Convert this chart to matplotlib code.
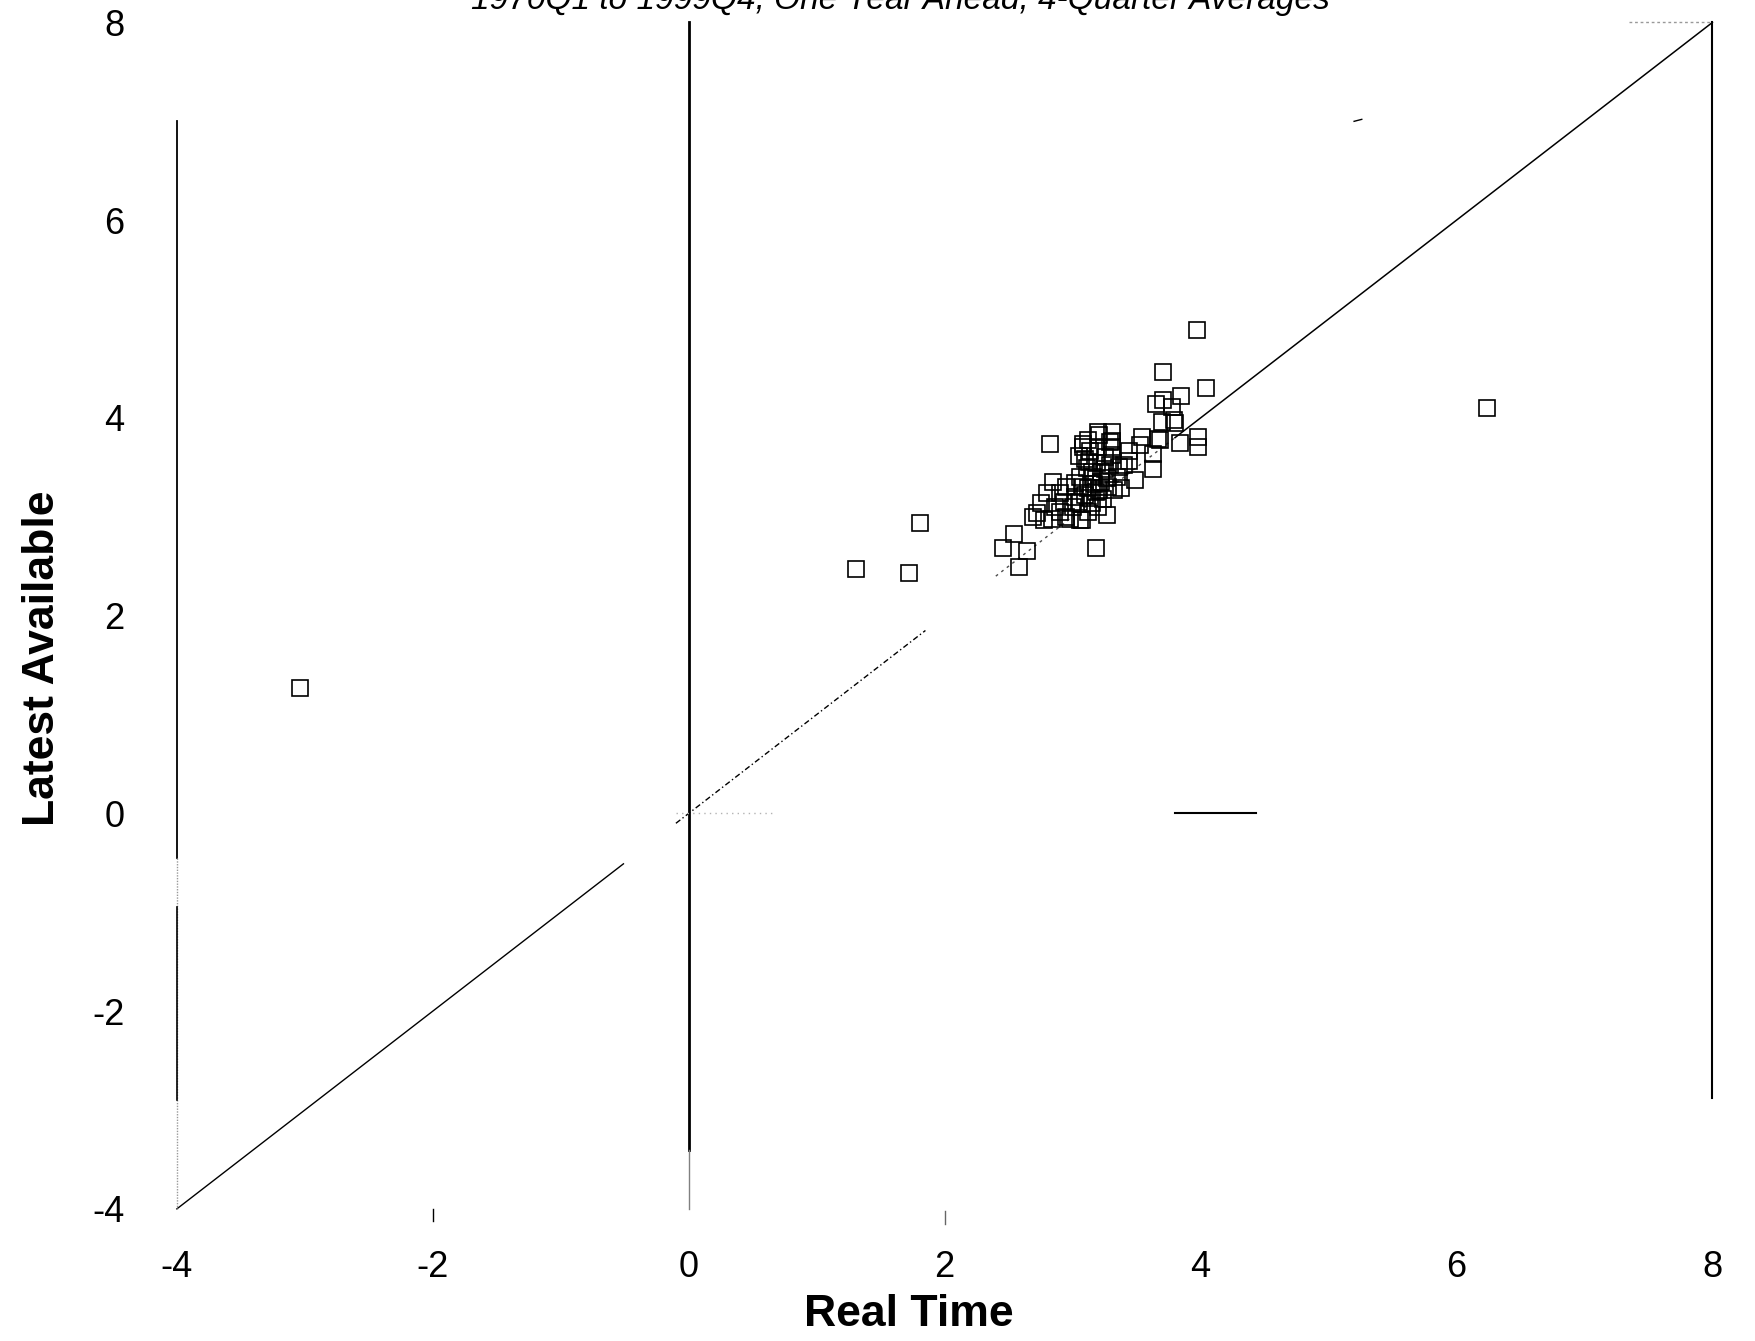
import matplotlib.pyplot as plt

plt.rcParams['font.family'] = ['Liberation Sans', 'DejaVu Sans']

title = "1970Q1 to 1999Q4, One Year Ahead, 4-Quarter Averages"
tick_values = [-4, -2, 0, 2, 4, 6, 8]

# real time vs latest available values
real_time = [
    -3.04, 1.31, 1.72, 1.81, 6.24,
    3.97, 3.71, 4.04, 3.85, 3.65, 3.71, 3.78, 3.70, 3.79, 3.98, 3.98, 3.84, 3.67, 3.80,
    3.54, 3.53, 3.68, 3.63, 3.63, 3.49, 3.44, 3.44, 3.40, 3.38, 3.31, 3.31, 3.31, 3.31,
    3.29, 3.21, 3.20, 3.12, 3.08, 3.08, 3.14, 3.20, 2.82,
    3.29, 3.19, 3.11, 3.06, 3.16, 3.27, 3.02, 2.95, 3.12, 3.21, 3.32, 3.02, 3.14, 3.24,
    3.00, 3.15, 3.27, 2.98, 3.06, 3.18, 3.22, 3.25, 3.10, 3.17, 3.10, 3.20, 3.12, 3.35,
    3.36, 3.05, 3.15, 3.22, 3.08, 3.18, 3.25, 3.13, 3.28, 3.05,
    2.85, 2.80, 2.90, 2.93, 2.75, 2.86, 2.90, 2.69, 2.78, 2.84, 3.07, 2.54, 2.46, 2.64,
    2.58, 2.72, 2.95,
]
latest = [
    1.27, 2.47, 2.43, 2.94, 4.10,
    4.89, 4.46, 4.30, 4.22, 4.14, 4.18, 4.11, 3.96, 3.98, 3.81, 3.71, 3.75, 3.79, 3.95,
    3.81, 3.73, 3.78, 3.64, 3.48, 3.37, 3.67, 3.56, 3.52, 3.29, 3.86, 3.77, 3.71, 3.63,
    3.76, 3.83, 3.86, 3.78, 3.74, 3.71, 3.67, 3.71, 3.74,
    3.52, 3.54, 3.49, 3.40, 3.40, 3.39, 3.34, 3.30, 3.29, 3.27, 3.27, 3.20, 3.19, 3.18,
    3.10, 3.14, 3.02, 2.98, 2.97, 2.68, 3.45, 3.60, 3.58, 3.33, 3.22, 3.10, 3.05, 3.40,
    3.50, 3.62, 3.45, 3.35, 3.30, 3.25, 3.48, 3.55, 3.30, 3.15,
    3.35, 3.24, 3.24, 3.15, 3.14, 3.10, 3.05, 3.00, 2.97, 2.98, 2.97, 2.83, 2.68, 2.65,
    2.49, 3.04, 3.00,
]

fig = plt.figure(figsize=(17.55, 13.41), dpi=100)
ax = fig.add_axes([0.0789, 0.0764, 0.9114, 0.9216])
ax.set_xlim(-4.3, 8.2)
ax.set_ylim(-4.3, 8.2)
for s in ax.spines.values():
    s.set_visible(False)

# 45 degree line, broken like the scan
ax.plot([-4, -0.51], [-4, -0.51], color='black', lw=1.0)
ax.plot([-0.1, 1.85], [-0.1, 1.85], color='black', lw=1.0, ls=(0, (4, 2, 1, 2)))
ax.plot([2.4, 3.8], [2.4, 3.8], color='0.3', lw=1.0, ls=(0, (2, 3)))
ax.plot([3.8, 8], [3.8, 8], color='black', lw=1.1)
ax.plot([5.2, 5.26], [7.0, 7.02], color='black', lw=1.0)

# vertical rules
ax.plot([-4, -4], [7, -0.45], color='black', lw=1.3)
ax.plot([-4, -4], [-0.45, -4], color='0.6', lw=1.0, ls=(0, (1, 1)))
ax.plot([-4, -4], [-0.95, -2.9], color='black', lw=1.2)
ax.plot([0, 0], [8, -3.4], color='black', lw=2.0)
ax.plot([0, 0], [-3.4, -4], color='0.5', lw=1.0)
ax.plot([8, 8], [8, -2.88], color='black', lw=1.5)
ax.plot([7.35, 8], [8, 8], color='0.6', lw=1.0, ls=(0, (2, 2)))

# horizontal bits at zero
ax.plot([-0.1, 0.65], [0, 0], color='0.7', lw=1.0, ls=(0, (1, 3)))
ax.plot([3.8, 4.43], [0, 0], color='black', lw=1.5)

# stray tick marks
ax.plot([-2, -2], [-4.0, -4.12], color='black', lw=1.0)
ax.plot([2, 2], [-4.02, -4.15], color='0.4', lw=1.0)

ax.plot(real_time, latest, ls='none', marker='s', ms=11.5, mfc='none',
        mec='black', mew=1.2)

ax.set_xticks(tick_values)
ax.set_yticks(tick_values)
ax.set_xticklabels([str(v) for v in tick_values], fontsize=26)
ax.set_yticklabels([str(v) for v in tick_values], fontsize=26)
ax.tick_params(axis='both', length=0)
ax.tick_params(axis='x', pad=8)
ax.tick_params(axis='y', pad=10)

fig.text(0.518, 0.0194, 'Real Time', fontsize=32, fontweight='bold',
         ha='center', va='center')
fig.text(0.0242, 0.509, 'Latest Available', fontsize=32, fontweight='bold',
         rotation=90, ha='center', va='center')
# title sits mostly above the page edge, as in the scan
fig.text(0.513, 0.9933, title, fontsize=24, style='italic',
         ha='center', va='baseline')

fig.savefig('out.png', dpi=100)
